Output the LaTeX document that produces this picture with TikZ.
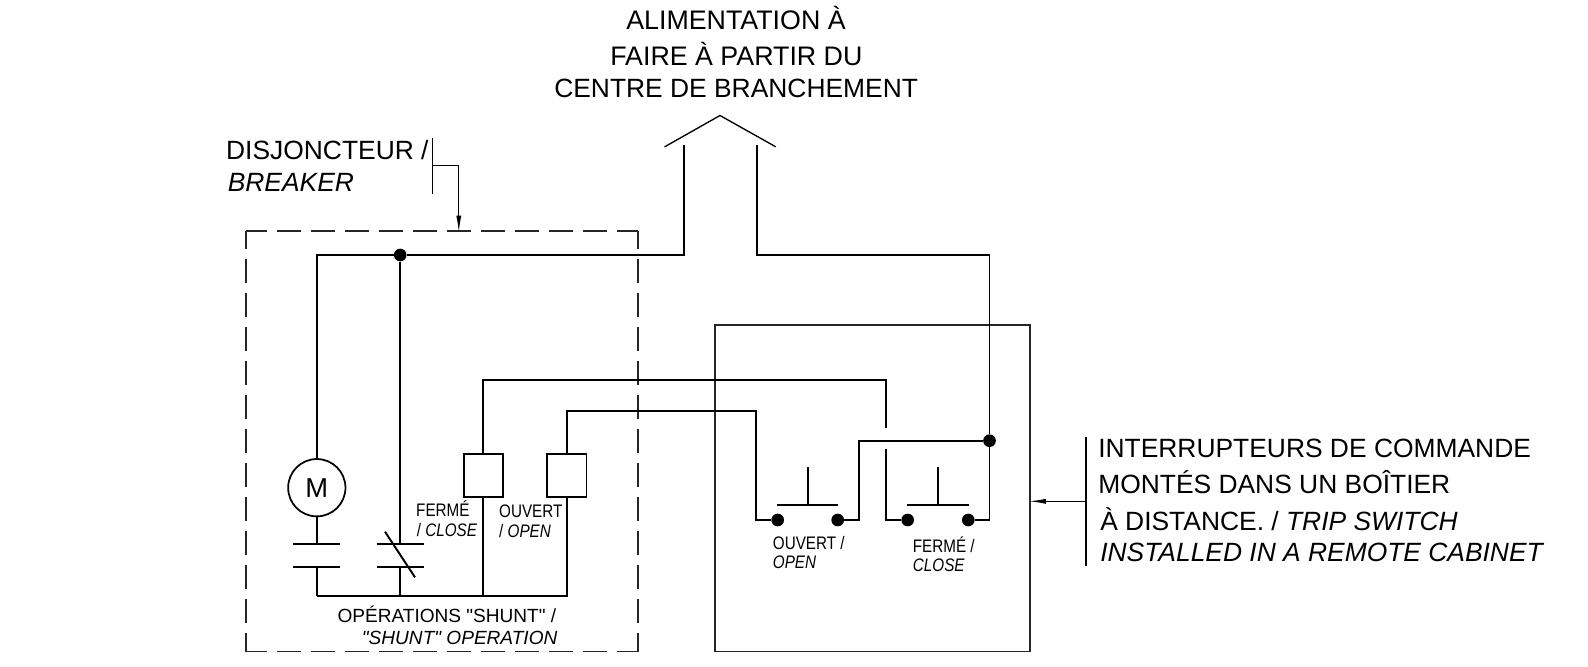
\documentclass[tikz,border=0pt]{standalone}
\usepackage{fontspec}
\setmainfont{Liberation Sans}
\newfontfamily\plainquotes{Liberation Sans}
\usetikzlibrary{arrows.meta}
\tikzset{
    %Define standard arrow tip
    >={Latex[length=13pt,width=3.8pt]},
    %Define style for texts
    biglabel/.style={
           anchor=base west,
           inner sep=0pt,
           font=\fontsize{19.8}{22}\selectfont},
    toplabel/.style={
           anchor=base west,
           inner sep=0pt,
           font=\fontsize{20.1}{22}\selectfont},
    midlabel/.style={
           anchor=base west,
           inner sep=0pt,
           font=\plainquotes\fontsize{14.3}{17}\selectfont},
    smalllabel/.style={
           anchor=base west,
           inner sep=0pt,
           xscale=.84,
           font=\fontsize{13.6}{15}\selectfont},
    % Define style for parts
    coil/.style={
           rectangle,
           draw=black, line width=1.3pt,
           fill=white,
           inner sep=0pt,
           minimum width=29.5pt,
           minimum height=32pt},
    motor/.style={
           circle,
           draw=black, line width=1.3pt,
           inner sep=0pt,
           minimum size=43pt,
           font=\fontsize{20.5}{22}\selectfont},
    contact/.style={
           circle,
           fill=black,
           inner sep=0pt,
           minimum size=9.5pt},
    % Define line styles
    wire/.style={line width=1.45pt},
    thin wire/.style={line width=1pt},
    enclosure/.style={
           rectangle,
           inner sep=0pt,
           outer sep=0pt},
    fence/.style={
           line width=1pt,
           color=black!85,
           dash pattern=on 18pt off 7.5pt}
}

\begin{document}
\begin{tikzpicture}[x=.75pt,y=-.75pt]
 \useasboundingbox (0,0) rectangle (1588,667);
 %boxes
    \node[enclosure, minimum width=294pt, minimum height=315.5pt] (breaker) at (442,441.35) {};
    \node[enclosure, draw=black!85, line width=1pt, minimum width=236.25pt, minimum height=244.9pt] (cabinet) at (872.5,488.25) {};
    \draw[fence, dash phase=2.25pt] (breaker.north west) -- (breaker.north east);
    \draw[fence, dash phase=2.25pt] (breaker.south west) -- (breaker.south east);
    \draw[fence, dash phase=4.5pt] (breaker.north west) -- (breaker.south west);
    \draw[fence, dash phase=4.5pt] (breaker.north east) -- (breaker.south east);
 %parts
    \node[motor] (motor) at (316.8,487.7) {M};
    \node[coil] (closecoil) at (483.3,475.3) {};
    \node[coil] (opencoil) at (566.7,475.3) {};
    \node[contact] (topdot) at (400.2,255) {};
    \node[contact] (sidedot) at (989.5,440.7) {};
    \node[contact] (openleft) at (777.7,520) {};
    \node[contact] (openright) at (837.7,520) {};
    \node[contact] (closeleft) at (907.7,520) {};
    \node[contact] (closeright) at (968.3,520) {};
 %corners and free ends
    \coordinate (feedleft) at (683.7,145);
    \coordinate (feedright) at (756.6,145);
    \coordinate (rightcorner) at (989.5,255);
    \coordinate (uppercorner) at (886,380);
    \coordinate (breaktop) at (886,428.3);
    \coordinate (breakbottom) at (886,449.3);
    \coordinate (lowercorner) at (756,410.7);
    \coordinate (crosscorner) at (859.3,440.7);
    \coordinate (busleft) at (316.8,595.7);
    \coordinate (busmid) at (400.2,595.7);
    \coordinate (motorplate) at (316.8,544.3);
    \coordinate (motorbase) at (316.8,567);
    \coordinate (nbplate) at (400.2,544.3);
    \coordinate (nbbase) at (400.2,567);
    \coordinate (roofleft) at (664.5,146.9);
    \coordinate (roofapex) at (720,115.5);
    \coordinate (roofright) at (775.9,146.9);
    \coordinate (openstem) at (807.7,467.3);
    \coordinate (openbar) at (807.7,505.3);
    \coordinate (closestem) at (938,467.3);
    \coordinate (closebar) at (938,505.3);
    \coordinate (leadertop) at (432.5,138.3);
    \coordinate (leaderbottom) at (432.5,193.7);
    \coordinate (leaderknee) at (432.5,165.7);
    \coordinate (breakerin) at (458.8,233);
    \coordinate (notetop) at (1086,436.7);
    \coordinate (notebottom) at (1086,565.7);
    \coordinate (notemid) at (1086,501.3);
    \coordinate (cabinetin) at (1028.5,501.3);
 %texts
    \node[toplabel] (feed1) at (626,30) {ALIMENTATION À};
    \node[toplabel] (feed2) at (610,65.7) {FAIRE À PARTIR DU};
    \node[biglabel] (feed3) at (554,97.3) {CENTRE DE BRANCHEMENT};
    \node[biglabel] (brk1) at (225.9,159.7) {DISJONCTEUR /};
    \node[biglabel] (brk2) at (227.5,191.7) {\itshape BREAKER};
    \node[biglabel] (note1) at (1098,457.7) {INTERRUPTEURS DE COMMANDE};
    \node[biglabel] (note2) at (1098,493.7) {MONTÉS DANS UN BOÎTIER};
    \node[biglabel] (note3) at (1100,530) {À DISTANCE. / \itshape TRIP SWITCH};
    \node[biglabel] (note4) at (1100,561) {\itshape INSTALLED IN A REMOTE CABINET};
    \node[midlabel] (shunt1) at (337.3,622.7) {OPÉRATIONS "SHUNT" /};
    \node[midlabel] (shunt2) at (361.7,644.5) {\itshape "SHUNT" OPERATION};
    \node[smalllabel] (coilc1) at (416,516) {FERMÉ};
    \node[smalllabel] (coilc2) at (416.7,536) {/ \itshape CLOSE};
    \node[smalllabel] (coilo1) at (499,517.7) {OUVERT};
    \node[smalllabel] (coilo2) at (499,537.3) {/ \itshape OPEN};
    \node[smalllabel] (btno1) at (772.7,549.3) {OUVERT /};
    \node[smalllabel] (btno2) at (772.7,568.3) {\itshape OPEN};
    \node[smalllabel] (btnc1) at (912.7,552.3) {FERMÉ /};
    \node[smalllabel] (btnc2) at (912.7,571) {\itshape CLOSE};
 %edges
    \draw[wire] (motor.north) |- (topdot);
    \draw[wire] (topdot) -| (feedleft);
    \draw[wire] (feedright) |- (rightcorner) -- (sidedot);
    \draw[wire] (sidedot) |- (closeright);
    \draw[wire] (topdot) -- (nbplate);
    \draw[wire] (motor.south) -- (motorplate);
    \draw[wire] (motorbase) -- (busleft);
    \draw[wire] (nbbase) -- (busmid);
    \draw[wire] (opencoil.south) |- (busleft);
    \draw[wire] (closecoil.south) -- (closecoil.south |- busleft);
    \draw[wire] (closecoil.north) |- (uppercorner) -- (breaktop);
    \draw[wire] (breakbottom) |- (closeleft);
    \draw[wire] (opencoil.north) |- (lowercorner) |- (openleft);
    \draw[wire] (openright) -| (crosscorner) -- (sidedot);
 %plates, buttons and roof
    \draw[thin wire] (roofleft) -- (roofapex) -- (roofright);
    \foreach \plate in {motorplate,motorbase,nbplate,nbbase}
        \draw[wire] ([xshift=-17.5pt]\plate) -- ([xshift=17.5pt]\plate);
    \draw[wire] (385,531.7) -- (415,577.3);
    \draw[wire] (openstem) -- (openbar);
    \draw[wire] (closestem) -- (closebar);
    \draw[wire] ([xshift=-22.9pt]openbar) -- ([xshift=22.9pt]openbar);
    \draw[wire] ([xshift=-22.9pt]closebar) -- ([xshift=22.9pt]closebar);
 %leaders
    \draw[thin wire] (leadertop) -- (leaderbottom);
    \draw[thin wire,->] (leaderknee) -| (breakerin);
    \draw[thin wire] (notetop) -- (notebottom);
    \draw[thin wire,->] (notemid) -- (cabinetin);
\end{tikzpicture}
\end{document}
